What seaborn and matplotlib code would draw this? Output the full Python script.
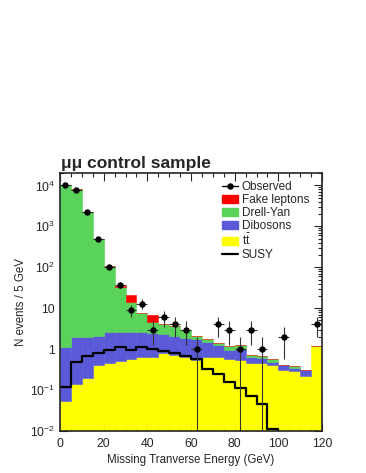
import numpy as np
import pandas as pd
import seaborn as sns
import matplotlib.pyplot as plt
from matplotlib.lines import Line2D
from matplotlib.patches import Patch
from matplotlib.ticker import FixedLocator, LogLocator, MultipleLocator, NullFormatter

# 5 GeV bins from 0 to 120 GeV
edges = np.arange(0, 125, 5)
centers = edges[:-1] + 2.5

ttbar = [0.055, 0.14, 0.20, 0.40, 0.46, 0.51, 0.57, 0.63, 0.65, 0.80, 0.70, 0.63,
         0.55, 0.65, 0.65, 0.57, 0.54, 0.46, 0.45, 0.40, 0.30, 0.29, 0.22, 1.18]
dibosons = [1.05, 1.86, 1.80, 1.70, 2.14, 2.09, 2.03, 1.97, 1.85, 1.50, 1.40, 1.27,
            1.25, 0.85, 0.60, 0.38, 0.46, 0.19, 0.17, 0.07, 0.10, 0.05, 0.08, 0.02]
drellyan = [10500, 8300, 2300, 498, 102, 30.4, 11.9, 4.9, 2.2, 1.9, 1.5, 1.1,
            0.3, 0.3, 0.15, 0.25, 0.25, 0.07, 0.04, 0.09, 0.01, 0.05, 0.01, 0.0]
fakes = [0, 0, 0, 0, 0, 2.0, 6.5, 0, 2.1, 0, 0, 0,
         0, 0, 0, 0, 0, 0, 0, 0, 0, 0, 0, 0.02]
observed = [10200, 7900, 2200, 480, 100, 37, 9, 13, 3, 6, 4, 3,
            1, 0, 4, 3, 1, 3, 1, 0, 2, 0, 0, 4]
susy = [0.12, 0.48, 0.68, 0.80, 0.95, 1.1, 0.95, 1.15, 1.02, 0.91, 0.78, 0.67,
        0.57, 0.32, 0.24, 0.16, 0.11, 0.072, 0.045, 0.011, 0, 0, 0, 0]

procs = ["Fake leptons", "Drell-Yan", "Dibosons", "ttbar"]
colors = {"Fake leptons": "#ff0000", "Drell-Yan": "#5ad35a",
          "Dibosons": "#5a5ad8", "ttbar": "#ffff00"}

df = pd.concat([
    pd.DataFrame({"met": centers, "w": vals, "process": name})
    for name, vals in zip(procs, [fakes, drellyan, dibosons, ttbar])
], ignore_index=True)

sns.set_style("ticks")
plt.rcParams["font.family"] = ["Liberation Sans", "DejaVu Sans"]
plt.rcParams["mathtext.default"] = "regular"

fig = plt.figure(figsize=(3.66, 4.73), dpi=100)
ax = fig.add_axes([0.164, 0.089, 0.716, 0.545])

# first hue level ends up on top of the stack
sns.histplot(data=df, x="met", weights="w", hue="process", hue_order=procs,
             palette=colors, binwidth=5, binrange=(0, 120), multiple="stack",
             element="bars", alpha=1, legend=False, ax=ax)
for p in ax.patches:
    p.set_edgecolor(p.get_facecolor())
    p.set_linewidth(0.4)

sns.histplot(x=centers, weights=susy, binwidth=5, binrange=(0, 120), element="step",
             fill=False, color="black", linewidth=1.6, ax=ax)

obs = np.array(observed, dtype=float)
m = obs > 0
ax.errorbar(centers[m], obs[m], xerr=2.5, yerr=np.sqrt(obs[m]), fmt="o",
            ms=3.6, color="black", ecolor="#333333", elinewidth=0.8, capsize=0)

ax.set_yscale("log")
ax.set_xlim(0, 120)
ax.set_ylim(0.01, 2e4)

ax.yaxis.set_major_locator(FixedLocator([1e-2, 1e-1, 1, 10, 1e2, 1e3, 1e4]))
ax.set_yticklabels(["$10^{-2}$", "$10^{-1}$", "1", "10", "$10^{2}$",
                    "$10^{3}$", "$10^{4}$"])
ax.yaxis.set_minor_locator(LogLocator(base=10, subs=np.arange(2, 10), numticks=20))
ax.yaxis.set_minor_formatter(NullFormatter())
ax.xaxis.set_major_locator(MultipleLocator(20))
ax.xaxis.set_minor_locator(MultipleLocator(5))

ax.tick_params(which="both", direction="in", top=True, right=True,
               labelsize=8.7, width=0.8)
ax.tick_params(which="major", length=6)
ax.tick_params(which="minor", length=3)
ax.tick_params(axis="x", which="major", pad=5)
for s in ax.spines.values():
    s.set_linewidth(1.2)

ax.set_xlabel("Missing Tranverse Energy (GeV)", fontsize=8.3, labelpad=3)
ax.set_ylabel("N events / 5 GeV", fontsize=8.3, labelpad=2)
ax.text(0.005, 1.008, "\u03bc\u03bc control sample", transform=ax.transAxes,
        fontsize=12.5, fontweight="bold", ha="left", va="bottom")

handles = [
    Line2D([], [], color="black", marker="o", ms=3.6, lw=1),
    Patch(color=colors["Fake leptons"]),
    Patch(color=colors["Drell-Yan"]),
    Patch(color=colors["Dibosons"]),
    Patch(color=colors["ttbar"]),
    Line2D([], [], color="black", lw=1.6),
]
labels = ["Observed", "Fake leptons", "Drell-Yan", "Dibosons", "t$\\bar{t}$", "SUSY"]
ax.legend(handles, labels, loc="upper left", bbox_to_anchor=(0.585, 1.0),
          frameon=False, fontsize=8.5, handlelength=1.4, handletextpad=0.3,
          labelspacing=0.08, borderaxespad=0.3)

fig.savefig("out.png", dpi=100)
